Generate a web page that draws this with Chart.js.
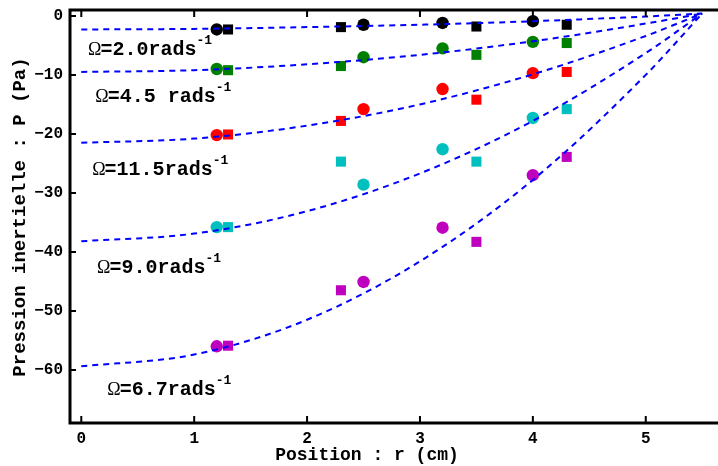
<!DOCTYPE html>
<html>
<head>
<meta charset="utf-8">
<script src="https://cdn.jsdelivr.net/npm/chart.js@4.4.0/dist/chart.umd.min.js"></script>
<style>
  html, body { margin: 0; padding: 0; background: #fff; overflow: hidden; }
</style>
</head>
<body>
<canvas id="pressionChart" width="718" height="466"></canvas>
<script>
// =========> measured points (r in cm, P in Pa) <=========
const circleR = [1.2, 2.5, 3.2, 4.0];
const squareR = [1.3, 2.3, 3.5, 4.3];

const circles2 = [-2.3, -1.5, -1.2, -0.9];
const squares2 = [-2.3, -1.9, -1.8, -1.5];
const circles45 = [-9.0, -7.0, -5.5, -4.4];
const squares45 = [-9.2, -8.5, -6.6, -4.6];
const circles115 = [-20.2, -15.8, -12.4, -9.7];
const squares115 = [-20.1, -17.8, -14.2, -9.5];
const circles9 = [-35.8, -28.6, -22.6, -17.3];
const squares9 = [-35.8, -24.7, -24.7, -15.8];
const circles67 = [-56.0, -45.1, -35.9, -27.0];
const squares67 = [-55.9, -46.5, -38.3, -23.9];

// =========> dashed fit curves <=========
const fitR = [0, 1, 2, 3, 4, 5, 5.5];
const fit2 = [-2.3, -2.2, -1.9, -1.5, -0.9, -0.1, 0.4];
const fit45 = [-9.5, -9.2, -8.2, -6.6, -4.3, -1.3, 0.4];
const fit115 = [-21.5, -20.8, -18.6, -15.0, -9.9, -3.4, 0.4];
const fit9 = [-38.2, -36.9, -33.1, -26.7, -17.8, -6.3, 0.4];
const fit67 = [-59.4, -57.4, -51.5, -41.6, -27.8, -10.0, 0.4];

const omegaLabels = ["=2.0rads", "=4.5 rads", "=11.5rads", "=9.0rads", "=6.7rads"];

const xTicks = [0, 1, 2, 3, 4, 5];
const yTicks = [0, -10, -20, -30, -40, -50, -60];

const pts = (xs, ys) => xs.map((x, i) => ({ x: x, y: ys[i] }));

function fitSet(ys) {
  return {
    type: "line",
    data: pts(fitR, ys),
    borderColor: "#0000ff",
    borderWidth: 2,
    borderDash: [6, 5],
    pointRadius: 0,
    cubicInterpolationMode: "monotone",
    fill: false,
  };
}

function markerSet(xs, ys, color, style) {
  return {
    type: "scatter",
    data: pts(xs, ys),
    backgroundColor: color,
    borderWidth: 0,
    pointStyle: style,
    pointRadius: style === "rect" ? 7.1 : 6.2,
  };
}

// label positions in data units (left edge, baseline)
const labelSpots = [
  [0.06, -6.6],
  [0.124, -14.55],
  [0.097, -26.9],
  [0.14, -43.6],
  [0.23, -64.2],
];

const decorations = {
  id: "decorations",
  afterDraw(chart) {
    const { ctx, chartArea: a, scales: { x, y } } = chart;
    ctx.save();
    ctx.strokeStyle = "#000";
    ctx.lineCap = "butt";

    // frame: left, bottom, top
    ctx.lineWidth = 3;
    ctx.beginPath();
    ctx.moveTo(a.left, a.top);
    ctx.lineTo(a.left, a.bottom);
    ctx.moveTo(a.left - 1.5, a.bottom);
    ctx.lineTo(a.right, a.bottom);
    ctx.moveTo(a.left - 1.5, a.top);
    ctx.lineTo(a.right, a.top);
    ctx.stroke();

    // inward ticks
    ctx.lineWidth = 2;
    ctx.beginPath();
    xTicks.forEach((v) => {
      const px = x.getPixelForValue(v);
      ctx.moveTo(px, a.bottom);
      ctx.lineTo(px, a.bottom - 7);
      ctx.moveTo(px, a.top);
      ctx.lineTo(px, a.top + 7);
    });
    yTicks.forEach((v) => {
      const py = y.getPixelForValue(v);
      ctx.moveTo(a.left, py);
      ctx.lineTo(a.left + 6, py);
    });
    ctx.stroke();

    // axis titles
    ctx.fillStyle = "#000";
    ctx.font = "bold 18px 'Liberation Mono'";
    ctx.textAlign = "center";
    ctx.textBaseline = "middle";
    ctx.fillText("Position : r (cm)", 367, 455);
    ctx.save();
    ctx.font = "bold 19px 'Liberation Mono'";
    ctx.translate(20, 217);
    ctx.rotate(-Math.PI / 2);
    ctx.fillText("Pression inertielle : P (Pa)", 0, 0);
    ctx.restore();

    // omega labels
    ctx.textAlign = "left";
    ctx.textBaseline = "alphabetic";
    omegaLabels.forEach((txt, i) => {
      let px = x.getPixelForValue(labelSpots[i][0]);
      const py = y.getPixelForValue(labelSpots[i][1]);
      ctx.font = "18px 'Liberation Serif'";
      ctx.fillText("\u03A9", px, py);
      px += ctx.measureText("\u03A9").width - 1;
      ctx.font = "bold 20px 'Liberation Mono'";
      ctx.fillText(txt, px, py);
      px += ctx.measureText(txt).width;
      ctx.font = "bold 13px 'Liberation Mono'";
      ctx.fillText("-1", px, py - 11);
    });
    ctx.restore();
  },
};

new Chart("pressionChart", {
  data: {
    datasets: [
      fitSet(fit2),
      fitSet(fit45),
      fitSet(fit115),
      fitSet(fit9),
      fitSet(fit67),
      markerSet(circleR, circles2, "#000000", "circle"),
      markerSet(squareR, squares2, "#000000", "rect"),
      markerSet(circleR, circles45, "#008000", "circle"),
      markerSet(squareR, squares45, "#008000", "rect"),
      markerSet(circleR, circles115, "#ff0000", "circle"),
      markerSet(squareR, squares115, "#ff0000", "rect"),
      markerSet(circleR, circles9, "#00bfbf", "circle"),
      markerSet(squareR, squares9, "#00bfbf", "rect"),
      markerSet(circleR, circles67, "#bf00bf", "circle"),
      markerSet(squareR, squares67, "#bf00bf", "rect"),
    ],
  },
  options: {
    responsive: false,
    animation: false,
    layout: { autoPadding: false, padding: { top: 10, right: 0, left: 0, bottom: 0 } },
    plugins: { legend: { display: false }, tooltip: { enabled: false } },
    scales: {
      x: {
        type: "linear",
        min: -0.1,
        max: 5.64,
        grid: { display: false, drawTicks: false },
        border: { display: false },
        afterBuildTicks: (s) => { s.ticks = xTicks.map((v) => ({ value: v })); },
        afterFit: (s) => { s.height = 43; s.paddingLeft = 0; s.paddingRight = 0; },
        ticks: {
          color: "#000",
          padding: 6,
          maxRotation: 0,
          font: { family: "'Liberation Mono'", size: 16, weight: "bold" },
        },
      },
      y: {
        type: "linear",
        min: -69,
        max: 1,
        grid: { display: false, drawTicks: false },
        border: { display: false },
        afterBuildTicks: (s) => { s.ticks = yTicks.map((v) => ({ value: v })); },
        afterFit: (s) => { s.width = 70; s.paddingTop = 0; s.paddingBottom = 0; },
        ticks: {
          color: "#000",
          padding: 7,
          font: { family: "'Liberation Mono'", size: 16, weight: "bold" },
          callback: (v) => String(v).replace("-", "\u2212"),
        },
      },
    },
  },
  plugins: [decorations],
});
</script>
</body>
</html>
